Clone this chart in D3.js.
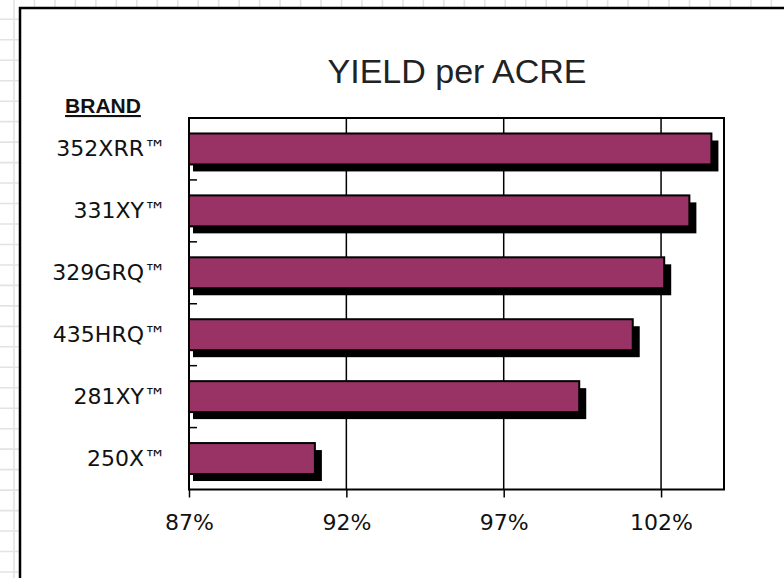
<!DOCTYPE html>
<html>
<head>
<meta charset="utf-8">
<script src="https://cdn.jsdelivr.net/npm/d3@7"></script>
<style>
  html, body { margin: 0; padding: 0; background: #fff; }
  svg { display: block; }
</style>
</head>
<body>
<div id="chart"></div>
<script>
// data
const brands = ['352XRR™', '331XY™', '329GRQ™', '435HRQ™', '281XY™', '250X™'];
const yieldPct = [103.6, 102.9, 102.1, 101.1, 99.4, 91.0];
const tickValues = [87, 92, 97, 102];
const xDomain = [87, 104];

const width = 784;
const height = 578;

const svg = d3.select('#chart').append('svg')
  .attr('width', width)
  .attr('height', height);

// spreadsheet cells behind the frame
const cell = 20.47;
const grid = svg.append('g').attr('stroke', '#e3e3e3').attr('stroke-width', 1.6);
grid.selectAll('line.v')
  .data(d3.range(14, width, cell))
  .enter().append('line')
  .attr('x1', d => d).attr('x2', d => d)
  .attr('y1', 0).attr('y2', height);
grid.selectAll('line.h')
  .data(d3.range(19.3, height, cell))
  .enter().append('line')
  .attr('y1', d => d).attr('y2', d => d)
  .attr('x1', 0).attr('x2', width);

// chart frame
svg.append('rect')
  .attr('x', 20).attr('y', 8)
  .attr('width', width + 20).attr('height', height + 20)
  .attr('fill', '#fff')
  .attr('stroke', '#000')
  .attr('stroke-width', 2.5);

const plot = { left: 189, right: 724, top: 118, bottom: 489.5 };

const x = d3.scaleLinear()
  .domain(xDomain)
  .range([plot.left, plot.right]);

const y = d3.scaleBand()
  .domain(brands)
  .range([plot.top, plot.bottom])
  .paddingInner(0.5)
  .paddingOuter(0.25);

// title
svg.append('text')
  .attr('x', 457).attr('y', 83)
  .attr('text-anchor', 'middle')
  .attr('font-family', '"Liberation Sans Narrow", "Liberation Sans", sans-serif')
  .attr('font-size', 34)
  .attr('fill', '#222')
  .text('YIELD per ACRE');

svg.append('text')
  .attr('x', 103).attr('y', 113)
  .attr('text-anchor', 'middle')
  .attr('font-family', '"Liberation Sans Narrow", "Liberation Sans", sans-serif')
  .attr('font-weight', 'bold')
  .attr('font-size', 21)
  .attr('text-decoration', 'underline')
  .attr('fill', '#111')
  .text('BRAND');

// vertical gridlines
svg.append('g')
  .selectAll('line')
  .data(tickValues.slice(1))
  .enter().append('line')
  .attr('x1', d => x(d)).attr('x2', d => x(d))
  .attr('y1', plot.top).attr('y2', plot.bottom)
  .attr('stroke', '#000')
  .attr('stroke-width', 1.5);

// plot border
svg.append('rect')
  .attr('x', plot.left).attr('y', plot.top)
  .attr('width', plot.right - plot.left)
  .attr('height', plot.bottom - plot.top)
  .attr('fill', 'none')
  .attr('stroke', '#000')
  .attr('stroke-width', 2);

// category ticks between bands, pointing inward
svg.append('g')
  .selectAll('line')
  .data(brands.slice(1))
  .enter().append('line')
  .attr('x1', plot.left).attr('x2', plot.left + 8)
  .attr('y1', d => y(d) - y.step() * y.paddingInner() / 2)
  .attr('y2', d => y(d) - y.step() * y.paddingInner() / 2)
  .attr('stroke', '#000')
  .attr('stroke-width', 1.5);

const bars = svg.append('g')
  .selectAll('g')
  .data(brands.map((b, i) => ({ brand: b, value: yieldPct[i] })))
  .enter().append('g');

// drop shadow
bars.append('rect')
  .attr('x', x(xDomain[0]) + 4)
  .attr('y', d => y(d.brand) + 7)
  .attr('width', d => x(d.value) - x(xDomain[0]) + 3)
  .attr('height', y.bandwidth())
  .attr('fill', '#000');

bars.append('rect')
  .attr('x', x(xDomain[0]))
  .attr('y', d => y(d.brand))
  .attr('width', d => x(d.value) - x(xDomain[0]))
  .attr('height', y.bandwidth())
  .attr('fill', '#993366')
  .attr('stroke', '#000')
  .attr('stroke-width', 2);

// x axis
const xAxis = svg.append('g')
  .attr('transform', `translate(0,${plot.bottom})`)
  .call(d3.axisBottom(x)
    .tickValues(tickValues)
    .tickFormat(d => d + '%')
    .tickSize(8)
    .tickSizeOuter(0)
    .tickPadding(17));
xAxis.select('.domain').remove();
xAxis.selectAll('.tick line').attr('stroke', '#000').attr('stroke-width', 1.5);
xAxis.selectAll('.tick text')
  .attr('font-family', '"DejaVu Sans", sans-serif')
  .attr('font-size', 22)
  .attr('fill', '#111');

// y axis labels
const yAxis = svg.append('g')
  .attr('transform', `translate(${plot.left},0)`)
  .call(d3.axisLeft(y).tickSize(0).tickPadding(23));
yAxis.select('.domain').remove();
yAxis.selectAll('.tick text')
  .attr('font-family', '"DejaVu Sans", sans-serif')
  .attr('font-size', 22)
  .attr('fill', '#111');
</script>
</body>
</html>
